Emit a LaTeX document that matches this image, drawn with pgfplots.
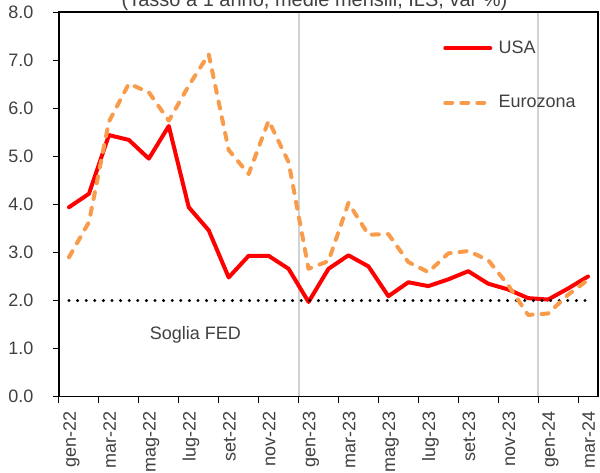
\documentclass[border=0pt]{standalone}
\usepackage{fontspec}
\setmainfont{Liberation Sans}
\usepackage{pgfplots}
\pgfplotsset{compat=1.18}
\definecolor{usared}{RGB}{255,0,0}
\definecolor{ezorange}{RGB}{248,155,75}
\definecolor{txt}{RGB}{64,64,64}
\definecolor{gridgray}{RGB}{210,210,210}
\begin{document}
\fontsize{18bp}{21bp}\selectfont
\begin{tikzpicture}
\begin{axis}[
  scale only axis, width=539bp, height=384.7bp,
  xmin=-0.5, xmax=26.5, ymin=0, ymax=8,
  axis line style={black, line width=1.1bp},
  tick align=outside, tick pos=left,
  /pgf/number format/assume math mode=true,
  xtick={-0.5,1.5,...,25.5},
  xticklabels={},
  major tick length=5.8bp,
  tick style={black, line width=1bp},
  extra x ticks={0,2,...,26},
  extra x tick labels={gen-22,mar-22,mag-22,lug-22,set-22,nov-22,gen-23,mar-23,mag-23,lug-23,set-23,nov-23,gen-24,mar-24},
  extra x tick style={major tick length=0pt,
    xticklabel style={xshift=2.3bp, yshift=-15bp, rotate=90, anchor=east, inner sep=0pt,
      text height=12.9bp, text depth=3.8bp, text=txt}},
  ytick={0,1,...,8},
  yticklabel={\pgfmathprintnumber[fixed,fixed zerofill,precision=1]{\tick}},
  yticklabel style={anchor=east, inner sep=0pt, xshift=-19.7bp, text=txt},
  legend style={draw=none, fill=none, inner sep=0pt, outer sep=0pt,
    at={(axis cs:18.75,6.68)}, anchor=west, row sep=39.5bp,
    nodes={inner sep=0pt, text=txt},
    /tikz/every odd column/.append style={column sep=6.3bp}},
  legend cell align=left,
  legend image code/.code={\draw[#1] (0bp,0bp) -- (45bp,0bp);},
]
\addplot[forget plot, gridgray, line width=2bp] coordinates {(11.5,0.02) (11.5,7.98)};
\addplot[forget plot, gridgray, line width=2bp] coordinates {(23.5,0.02) (23.5,7.98)};
\addplot[usared, line width=4bp, mark=none, line join=round, line cap=round] coordinates {
(0,3.94) (1,4.22) (2,5.44) (3,5.34) (4,4.95) (5,5.63) (6,3.94) (7,3.46) (8,2.48) (9,2.93)
(10,2.93) (11,2.66) (12,1.97) (13,2.66) (14,2.94) (15,2.71) (16,2.09) (17,2.38) (18,2.30)
(19,2.44) (20,2.61) (21,2.35) (22,2.23) (23,2.05) (24,2.02) (25,2.25) (26,2.50)};
\addlegendentry{USA}
\addplot[forget plot, black, line width=3.3bp, line cap=round, dash pattern=on 0bp off 8.6bp, mark=none] coordinates {(0,2) (26,2)};
\addplot[ezorange, line width=4bp, mark=none, line join=round, line cap=round, dash pattern=on 7bp off 9bp] coordinates {
(0,2.90) (1,3.63) (2,5.72) (3,6.51) (4,6.33) (5,5.74) (6,6.47) (7,7.12) (8,5.13) (9,4.63)
(10,5.74) (11,4.88) (12,2.66) (13,2.82) (14,4.03) (15,3.37) (16,3.38) (17,2.80) (18,2.59)
(19,2.98) (20,3.03) (21,2.84) (22,2.32) (23,1.70) (24,1.73) (25,2.12) (26,2.43)};
\addlegendentry{Eurozona}
\node[anchor=base west, inner sep=0pt, text=txt] at (axis cs:4.04,1.19) {Soglia FED};
\end{axis}
\node[anchor=base, inner sep=0pt, text=txt, font=\fontsize{20bp}{24bp}\selectfont] at (255.5bp,390.4bp) {(Tasso a 1 anno, medie mensili, ILS, var \%)};
\pgfresetboundingbox
\useasboundingbox (-59bp,-76.3bp) rectangle (541bp,396.7bp);
\end{tikzpicture}
\end{document}
